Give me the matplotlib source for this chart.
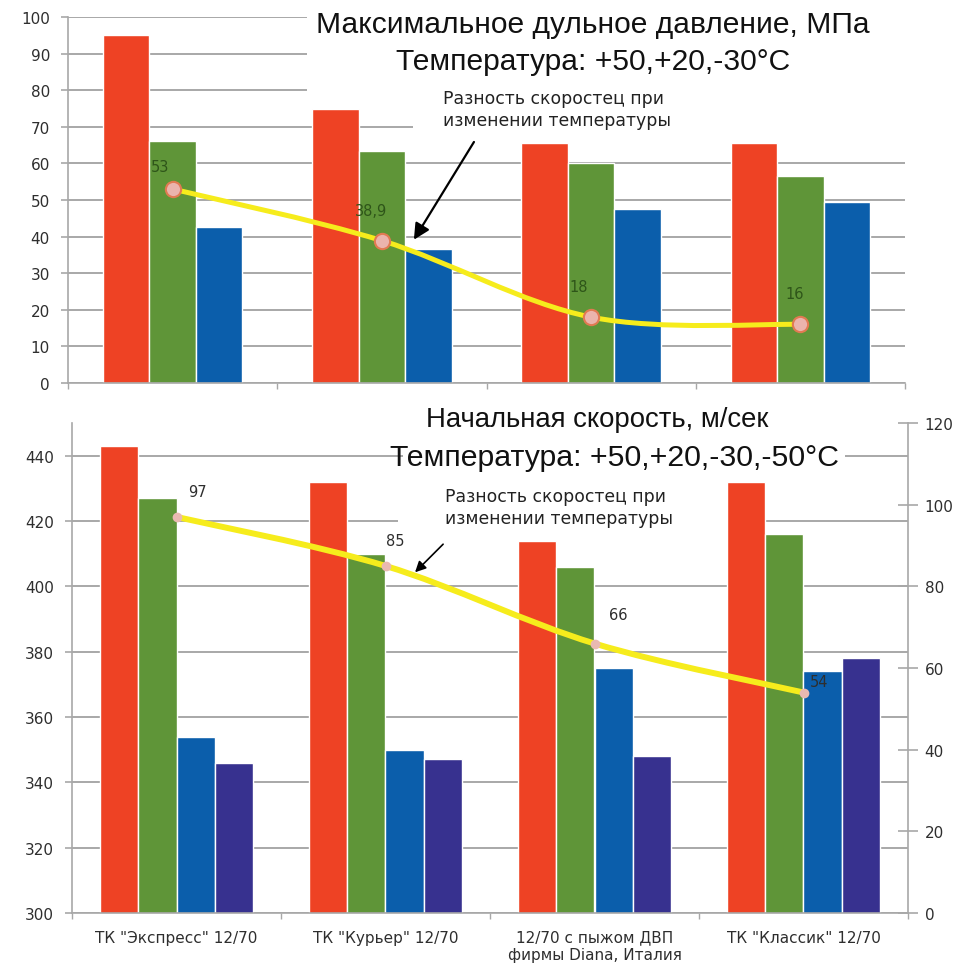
import matplotlib
matplotlib.use('Agg')
import matplotlib.pyplot as plt
from matplotlib.path import Path
from matplotlib.patches import PathPatch, Rectangle
import numpy as np

# --- data ---
products = ['ТК "Экспресс" 12/70', 'ТК "Курьер" 12/70',
            '12/70 с пыжом ДВП\nфирмы Diana, Италия', 'ТК "Классик" 12/70']

# max muzzle pressure, MPa at +50, +20, -30 C
pressure_p50 = [95, 75, 65.5, 65.5]
pressure_p20 = [66, 63.5, 60, 56.5]
pressure_m30 = [42.5, 36.5, 47.5, 49.5]
pressure_diff = [53, 38.9, 18, 16]

# initial velocity, m/s at +50, +20, -30, -50 C
speed_p50 = [443, 432, 414, 432]
speed_p20 = [427, 410, 406, 416]
speed_m30 = [354, 350, 375, 374]
speed_m50 = [346, 347, 348, 378]
speed_diff = [97, 85, 66, 54]

RED = '#ee4224'
GREEN = '#5f9538'
BLUE = '#0b5eab'
INDIGO = '#37318f'
GRID = '#a8a8a8'
YELLOW = '#f6ec1c'
TXT = '#2e2e2e'

plt.rcParams['font.family'] = ['DejaVu Sans']


def smooth_path(xs, ys):
    # Excel-like smoothed line: cubic Bezier segments through the points
    pts = np.column_stack([xs, ys]).astype(float)
    verts = [pts[0]]
    codes = [Path.MOVETO]
    n = len(pts)
    for i in range(n - 1):
        p0 = pts[i - 1] if i > 0 else pts[i]
        p1, p2 = pts[i], pts[i + 1]
        p3 = pts[i + 2] if i + 2 < n else pts[i + 1]
        c1 = p1 + (p2 - p0) / 6
        c2 = p2 - (p3 - p1) / 6
        verts += [c1, c2, p2]
        codes += [Path.CURVE4] * 3
    return Path(verts, codes)


def style_axis(ax):
    ax.set_axisbelow(True)
    ax.grid(axis='y', color=GRID, linewidth=1.4)
    for s in ['top', 'right']:
        ax.spines[s].set_visible(False)
    for s in ['left', 'bottom']:
        ax.spines[s].set_color(GRID)
        ax.spines[s].set_linewidth(1.2)
    ax.tick_params(axis='y', colors=GRID, labelcolor=TXT, labelsize=11,
                   length=5, width=1.2, pad=8)
    ax.set_xlim(-0.5, 3.5)
    ax.set_xticks(np.arange(-0.5, 4, 1), minor=True)
    ax.tick_params(axis='x', which='minor', length=4, color=GRID, width=1)
    ax.tick_params(axis='x', which='major', length=0)


fig = plt.figure(figsize=(9.61, 9.70), dpi=100)

# ---------------- top chart: pressure ----------------
ax1 = fig.add_axes([68 / 961, 1 - 384 / 970, 837 / 961, 366 / 970])
style_axis(ax1)
x = np.arange(len(products))
w = 0.222
ax1.bar(x - w, pressure_p50, w, color=RED, edgecolor='white', linewidth=1, zorder=2)
ax1.bar(x, pressure_p20, w, color=GREEN, edgecolor='white', linewidth=1, zorder=2)
ax1.bar(x + w, pressure_m30, w, color=BLUE, edgecolor='white', linewidth=1, zorder=2)
ax1.set_ylim(0, 100)
ax1.set_yticks(np.arange(0, 101, 10))
ax1.set_xticks(x)
ax1.set_xticklabels([])

# white boxes behind title and note (hide grid there)
ax1.add_patch(Rectangle((0.2855, 0.79), 0.72, 0.23, transform=ax1.transAxes,
                        facecolor='white', edgecolor='none', zorder=1, clip_on=False))
ax1.add_patch(Rectangle((0.412, 0.66), 0.6, 0.2, transform=ax1.transAxes,
                        facecolor='white', edgecolor='none', zorder=1, clip_on=False))

ax1.add_patch(PathPatch(smooth_path(x, pressure_diff), facecolor='none',
                        edgecolor=YELLOW, linewidth=3.6, capstyle='round', zorder=4))
ax1.plot(x, pressure_diff, 'o', markersize=11, markerfacecolor='#ebb4ad',
         markeredgecolor='#e17a52', markeredgewidth=1.5, zorder=5)
top_offsets = [(-9, 16), (-8, 22), (-9, 22), (-4, 22)]
for xi, v, off in zip(x, pressure_diff, top_offsets):
    ax1.annotate(f'{v:g}'.replace('.', ','), (xi, v), xytext=off,
                 textcoords='offset points', ha='center', va='center',
                 fontsize=10.5, color='#2e5519', zorder=6)

ax1.annotate('', xy=(1.146, 38.5), xytext=(1.447, 66.5),
             arrowprops=dict(arrowstyle='-|>', color='black', lw=1.6,
                             mutation_scale=24), zorder=6)
fig.text(443 / 961, 1 - 90 / 970, 'Разность скоростец при\nизменении температуры',
         ha='left', va='top', fontsize=12.4, color='#222222', linespacing=1.25)

fig.text(593 / 961, 1 - 25 / 970, 'Максимальное дульное давление, МПа',
         ha='center', va='center', fontsize=21.6, family='Liberation Sans', color='#111111')
fig.text(593 / 961, 1 - 62 / 970, 'Температура: +50,+20,-30°C',
         ha='center', va='center', fontsize=21.6, family='Liberation Sans', color='#111111')

# ---------------- bottom chart: velocity ----------------
ax2 = fig.add_axes([72 / 961, 1 - 914 / 970, 836 / 961, 490 / 970])
style_axis(ax2)
w2 = 0.183
ax2.bar(x - 1.5 * w2, speed_p50, w2, color=RED, edgecolor='white', linewidth=1, zorder=2)
ax2.bar(x - 0.5 * w2, speed_p20, w2, color=GREEN, edgecolor='white', linewidth=1, zorder=2)
ax2.bar(x + 0.5 * w2, speed_m30, w2, color=BLUE, edgecolor='white', linewidth=1, zorder=2)
ax2.bar(x + 1.5 * w2, speed_m50, w2, color=INDIGO, edgecolor='white', linewidth=1, zorder=2)
ax2.set_ylim(300, 450)
ax2.set_yticks(np.arange(300, 441, 20))
ax2.set_xticks(x)
ax2.set_xticklabels(products, fontsize=11, color=TXT, linespacing=1.2)
ax2.tick_params(axis='x', which='major', pad=12)

ax2.add_patch(Rectangle((0.396, 0.896), 0.529, 0.11, transform=ax2.transAxes,
                        facecolor='white', edgecolor='none', zorder=1, clip_on=False))
ax2.add_patch(Rectangle((0.39, 0.763), 0.41, 0.106, transform=ax2.transAxes,
                        facecolor='white', edgecolor='none', zorder=1, clip_on=False))

ax3 = ax2.twinx()
ax3.set_ylim(0, 120)
ax3.set_yticks(np.arange(0, 121, 20))
for s in ['top', 'left', 'bottom']:
    ax3.spines[s].set_visible(False)
ax3.spines['right'].set_color(GRID)
ax3.spines['right'].set_linewidth(1.2)
ax3.tick_params(axis='y', direction='inout', length=14, width=1.2, colors=GRID,
                labelcolor=TXT, labelsize=11, pad=5)

ax3.add_patch(PathPatch(smooth_path(x, speed_diff), facecolor='none',
                        edgecolor=YELLOW, linewidth=4.3, capstyle='round', zorder=4))
ax3.plot(x, speed_diff, 'o', markersize=7, markerfacecolor='#e9b9b1',
         markeredgecolor='none', zorder=5)
bot_offsets = [(15, 18), (7, 18), (17, 21), (11, 8)]
for xi, v, off in zip(x, speed_diff, bot_offsets):
    ax3.annotate(f'{v:g}', (xi, v), xytext=off, textcoords='offset points',
                 ha='center', va='center', fontsize=10.5, color=TXT, zorder=6)

ax2.annotate('', xy=(1.132, 403.7), xytext=(1.285, 413.5),
             arrowprops=dict(arrowstyle='-|>', color='black', lw=1.2,
                             mutation_scale=16), zorder=6)
fig.text(445 / 961, 1 - 488 / 970, 'Разность скоростец при\nизменении температуры',
         ha='left', va='top', fontsize=12.4, color='#222222', linespacing=1.25)

fig.text(597 / 961, 1 - 420 / 970, 'Начальная скорость, м/сек',
         ha='center', va='center', fontsize=19.8, family='Liberation Sans', color='#111111')
fig.text(615 / 961, 1 - 458 / 970, 'Температура: +50,+20,-30,-50°C',
         ha='center', va='center', fontsize=21.8, family='Liberation Sans', color='#111111')

fig.savefig('out.png', dpi=100)
